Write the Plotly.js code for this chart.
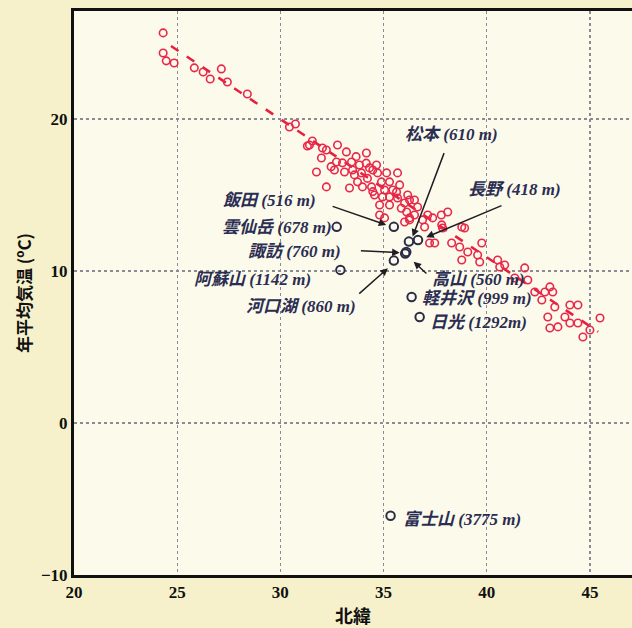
<!DOCTYPE html>
<html>
<head>
<meta charset="utf-8">
<script src="https://cdn.plot.ly/plotly-3.0.1.min.js"></script>
<style>html,body{margin:0;padding:0;overflow:hidden;background:#f6f1cb;}</style>
</head>
<body>
<div id="chart" style="width:632px;height:628px;"></div>
<script>
// Red: stations (latitude, annual mean temperature)
const stationLat = [24.32,24.32,24.47,24.85,25.83,26.26,26.60,27.14,27.43,28.40,30.44,30.73,
31.31,31.55,31.75,31.99,32.23,32.23,32.77,33.20,34.17,32.72,32.62,33.01,33.45,33.11,33.50,33.35,33.83,33.93,34.32,34.22,34.66,34.71,33.74,33.98,34.42,34.90,35.15,35.29,35.68,35.78,35.63,34.56,34.95,35.29,34.81,35.29,35.68,36.17,36.02,36.50,36.65,36.12,36.50,34.81,35.05,36.89,36.02,32.04,
31.41,32.46,33.67,34.48,34.16,35.45,35.05,35.86,36.26,34.48,33.59,36.26,37.80,
36.26,37.14,37.38,38.11,37.82,36.99,38.79,37.23,38.30,38.69,39.76,39.08,39.56,38.79,39.66,40.53,40.87,40.63,41.36,41.84,37.48,37.86,38.93,
43.06,42.82,43.20,42.33,42.67,43.30,44.03,44.42,42.96,43.79,44.03,44.42,43.06,43.45,45.00,45.49,44.66,41.99];
const stationTemp = [25.66,24.34,23.82,23.68,23.36,23.09,22.63,23.29,22.43,21.64,19.47,19.67,
18.22,18.55,16.51,17.43,17.96,15.53,18.29,17.83,17.76,17.17,16.64,17.11,17.17,16.51,16.64,15.46,16.97,16.45,16.78,16.09,16.97,16.45,15.86,15.53,15.53,15.86,16.45,15.86,16.45,15.66,15.20,15.00,14.87,14.87,14.34,14.34,14.80,15.00,14.47,14.67,14.21,13.88,13.68,13.68,13.49,13.36,13.22,18.09,
18.29,16.86,17.52,16.64,17.09,15.33,15.33,14.12,13.36,15.22,16.32,14.67,13.68,
13.49,13.68,13.49,13.88,13.03,12.89,12.89,11.84,11.84,11.58,11.84,11.25,11.05,10.72,10.59,10.72,10.39,10.26,9.54,10.20,11.84,12.83,12.83,
8.95,8.62,8.62,8.62,8.09,7.63,7.76,7.76,6.97,6.97,6.58,6.58,6.25,6.32,6.12,6.91,5.66,9.41];

// Regression line end points
const fitLat = [24.7, 45.4];
const fitTemp = [24.8, 6.0];

// Highland stations (dark circles)
const highNames = ["飯田","雲仙岳","松本","長野","諏訪","高山","河口湖","阿蘇山","軽井沢","日光","富士山"];
const highElev  = ["516 m","678 m","610 m","418 m","760 m","560 m","860 m","1142 m","999 m","1292m","3775 m"];
const highLat   = [35.50, 32.73, 36.23, 36.67, 36.05, 36.10, 35.50, 32.91, 36.36, 36.75, 35.34];
const highTemp  = [12.90, 12.90, 11.93, 12.04, 11.15, 11.25, 10.68, 10.07, 8.29, 6.97, -6.10];

const labelColor = '#2b2d52';
const labelFont = {family: 'Liberation Serif, Noto Sans CJK JP, serif', size: 17, color: labelColor, weight: 'bold', style: 'italic'};

function lbl(i, x, y) {
  return {x: x, y: y, xref: 'x', yref: 'y', xanchor: 'left', yanchor: 'middle',
    text: highNames[i] + ' (' + highElev[i] + ')', showarrow: false, font: labelFont};
}
function arr(hx, hy, tx, ty) {
  return {x: hx, y: hy, ax: tx, ay: ty, xref: 'x', yref: 'y', axref: 'x', ayref: 'y',
    text: '', showarrow: true, arrowhead: 2, arrowsize: 1.0, arrowwidth: 1.5, arrowcolor: '#1e1e24', standoff: 0, startstandoff: 0};
}

const annotations = [
  lbl(2, 35.92, 18.95), arr(36.41, 12.26, 37.96, 17.85),
  lbl(3, 38.98, 15.33), arr(37.07, 12.22, 40.79, 14.34),
  lbl(0, 27.14, 14.61), arr(35.13, 13.03, 32.46, 14.28),
  lbl(1, 27.09, 12.89),
  lbl(4, 28.35, 11.25), arr(35.78, 11.20, 33.83, 11.34),
  lbl(7, 25.73, 9.41),
  lbl(6, 28.25, 7.63), arr(35.21, 10.18, 33.75, 8.42),
  lbl(5, 37.23, 9.41), arr(36.46, 10.61, 37.15, 9.74),
  lbl(8, 36.75, 8.16),
  lbl(9, 37.14, 6.64),
  lbl(10, 35.87, -6.38)
];

const traces = [
  {x: fitLat, y: fitTemp, type: 'scatter', mode: 'lines',
   line: {color: '#e8203f', width: 2.6, dash: '9px,10px'}, hoverinfo: 'skip'},
  {x: stationLat, y: stationTemp, type: 'scatter', mode: 'markers',
   marker: {symbol: 'circle-open', size: 7.5, color: '#e8284a', line: {width: 1.6}}},
  {x: highLat, y: highTemp, type: 'scatter', mode: 'markers',
   marker: {symbol: 'circle-open', size: 8.5, color: '#2b2d48', line: {width: 2}}}
];

const tickFont = {family: 'Liberation Serif, serif', size: 17, color: '#111', weight: 'bold'};

const layout = {
  width: 632, height: 628,
  margin: {l: 74, r: 0, t: 11, b: 53},
  paper_bgcolor: '#f6f1cb',
  plot_bgcolor: '#fcfbeb',
  showlegend: false,
  xaxis: {
    range: [20, 47.04], tickvals: [20,25,30,35,40,45], ticks: '',
    showline: true, linewidth: 3, linecolor: '#111', mirror: true,
    showgrid: true, gridcolor: '#8a8a96', gridwidth: 1.3, griddash: 'dot',
    zeroline: false, tickfont: tickFont,
    title: {text: '北緯', font: {family: 'Noto Sans CJK JP, sans-serif', size: 18, color: '#111', weight: 'bold'}, standoff: 9}
  },
  yaxis: {
    range: [-10, 27.1], tickvals: [-10,0,10,20], ticks: '',
    showline: true, linewidth: 3, linecolor: '#111', mirror: false,
    showgrid: true, gridcolor: '#8a8a96', gridwidth: 1.3, griddash: 'dot',
    zeroline: false, tickfont: tickFont,
    title: {text: '年平均気温 (ºC)', font: {family: 'Noto Sans CJK JP, sans-serif', size: 17, color: '#111', weight: 'bold'}, standoff: 5}
  },
  annotations: annotations
};

Plotly.newPlot('chart', traces, layout, {displayModeBar: false, staticPlot: true});
</script>
</body>
</html>
